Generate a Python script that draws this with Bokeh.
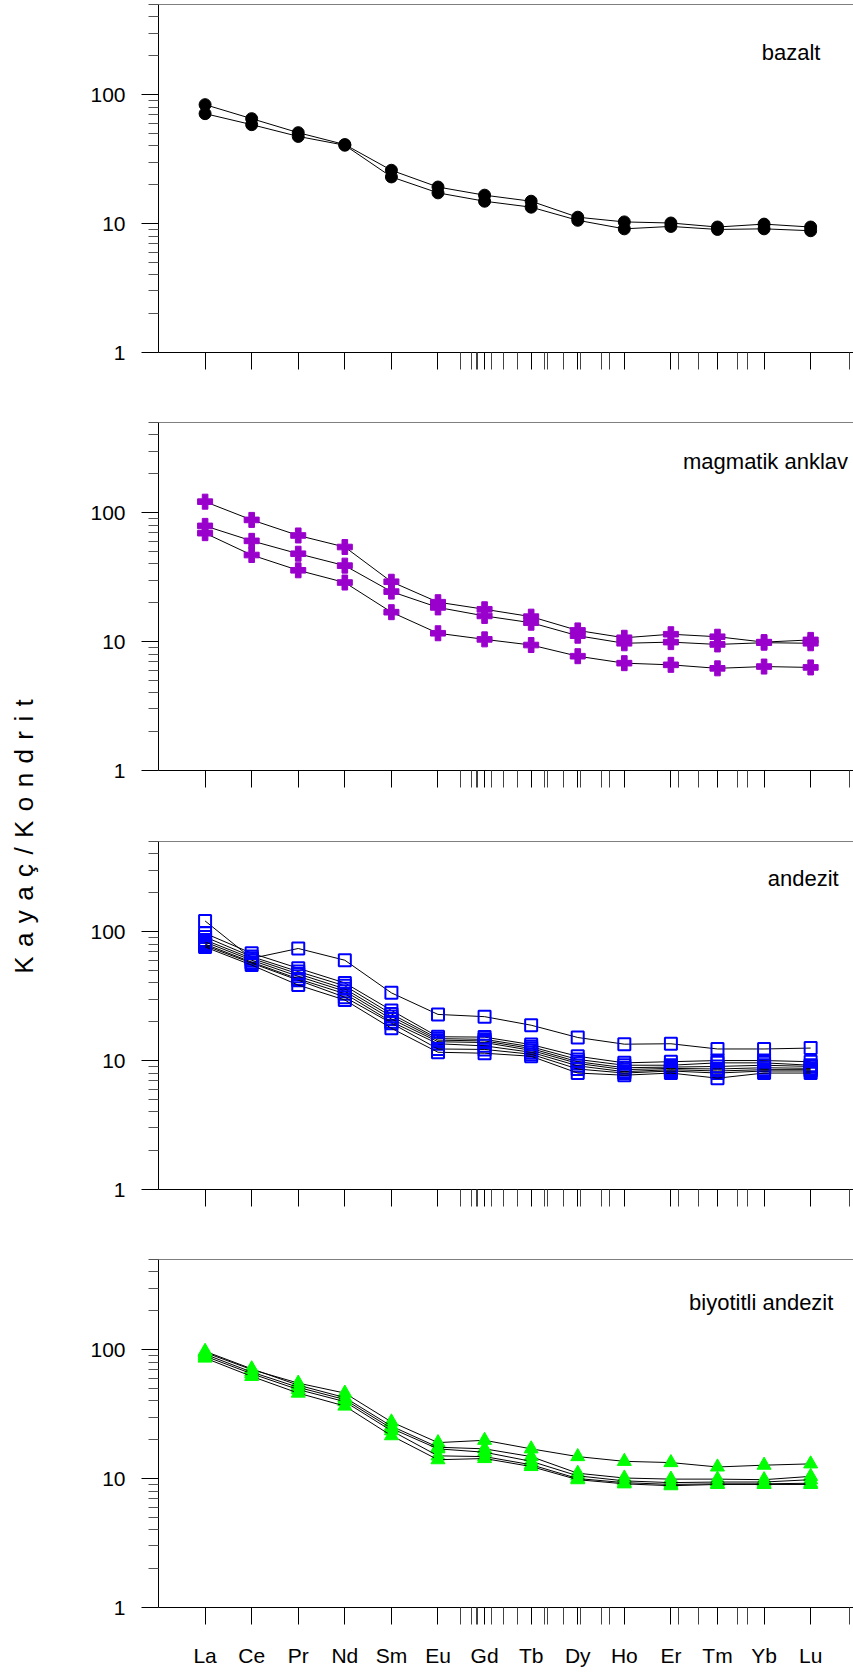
from math import pi

from bokeh.core.properties import value
from bokeh.embed import file_html
from bokeh.layouts import column, row
from bokeh.models import FixedTicker, Label, NumeralTickFormatter, Range1d, Span
from bokeh.plotting import figure
from bokeh.resources import INLINE

# ---------------------------------------------------------------------------
# Chondrite-normalised REE values (rock / chondrite)
# ---------------------------------------------------------------------------
elements = ["La", "Ce", "Pr", "Nd", "Sm", "Eu", "Gd", "Tb", "Dy", "Ho", "Er", "Tm", "Yb", "Lu"]
x_pos = list(range(1, len(elements) + 1))

bazalt = [
    [83.6, 65.1, 50.7, 41.0, 25.9, 19.2, 16.6, 14.9, 11.2, 10.3, 10.1, 9.4, 9.9, 9.4],
    [71.2, 58.5, 47.4, 40.5, 23.0, 17.3, 14.9, 13.4, 10.6, 9.1, 9.5, 9.0, 9.1, 8.8],
]

magmatik_anklav = [
    [121.6, 87.8, 66.5, 54.1, 29.1, 20.2, 17.8, 15.6, 12.2, 10.7, 11.4, 10.9, 9.9, 10.3],
    [78.9, 60.4, 48.0, 38.8, 24.4, 18.4, 15.8, 14.0, 11.1, 9.7, 9.9, 9.5, 9.8, 9.7],
    [69.3, 46.9, 35.7, 28.7, 16.9, 11.6, 10.4, 9.4, 7.7, 6.8, 6.6, 6.2, 6.4, 6.3],
]

andezit = [
    [121.0, 62.0, 74.0, 60.0, 33.5, 22.8, 21.9, 18.8, 15.1, 13.4, 13.5, 12.3, 12.3, 12.5],
    [97.0, 68.0, 52.0, 40.0, 24.5, 15.3, 15.2, 13.3, 10.8, 9.6, 9.8, 10.0, 10.0, 9.8],
    [91.0, 64.0, 49.0, 38.0, 23.0, 14.8, 14.6, 12.8, 10.2, 9.2, 9.2, 9.6, 9.6, 9.2],
    [86.0, 62.0, 47.0, 36.0, 22.0, 14.4, 14.2, 12.4, 9.8, 8.8, 8.9, 9.0, 9.2, 9.0],
    [83.0, 60.0, 45.0, 34.5, 21.0, 14.0, 13.8, 12.0, 9.5, 8.5, 8.7, 8.6, 8.8, 8.7],
    [80.0, 58.0, 43.0, 33.0, 20.0, 13.5, 13.0, 11.6, 9.1, 8.2, 8.5, 8.3, 8.5, 8.5],
    [78.0, 57.0, 42.0, 31.0, 19.5, 12.3, 12.2, 11.2, 8.6, 8.0, 8.3, 8.0, 8.3, 8.3],
    [76.0, 55.0, 38.5, 29.5, 17.8, 11.6, 11.4, 10.8, 8.0, 7.7, 8.0, 7.3, 8.0, 8.0],
]

biyotitli_andezit = [
    [95.0, 70.0, 55.0, 46.0, 27.5, 19.0, 19.8, 17.0, 14.8, 13.6, 13.3, 12.3, 12.7, 13.0],
    [97.0, 71.0, 53.0, 42.5, 25.5, 17.5, 17.0, 14.8, 11.0, 10.1, 9.9, 9.9, 9.8, 10.4],
    [92.0, 67.0, 51.0, 41.0, 24.5, 17.0, 16.0, 13.6, 10.5, 9.6, 9.3, 9.4, 9.4, 9.8],
    [89.0, 65.0, 49.0, 39.5, 23.5, 15.0, 14.8, 12.8, 10.0, 9.3, 9.0, 9.1, 9.1, 9.2],
    [86.0, 62.0, 46.0, 36.5, 21.5, 14.0, 14.3, 12.4, 9.8, 9.1, 8.8, 9.0, 9.0, 9.0],
]

# Axis ticks
y_major_ticks = [1, 10, 100]
y_minor_ticks = [2, 3, 4, 5, 6, 7, 8, 9, 20, 30, 40, 50, 60, 70, 80, 90, 200, 300, 400, 500]
x_extra_ticks = [6.49, 6.71, 6.83, 6.85, 7.15, 7.41, 7.70, 8.28, 8.36, 8.70,
                 9.05, 9.51, 9.69, 11.17, 11.60, 12.43, 12.64, 14.83]

FONT = "Liberation Sans"
PANEL_W = 803
LEFT = 108


def make_panel(series, title, title_x, title_y, height, marker, size, fill, edge,
               lw, show_labels):
    bottom = height - 4 - 348
    p = figure(width=PANEL_W, height=height,
               x_range=Range1d(0, 14.92), y_range=Range1d(1, 500),
               y_axis_type="log", output_backend="svg", toolbar_location=None,
               min_border_left=LEFT, min_border_right=0, min_border_top=4,
               min_border_bottom=bottom)
    p.outline_line_color = None
    p.grid.visible = False
    p.background_fill_color = "white"

    yax = p.yaxis[0]
    yax.ticker = FixedTicker(ticks=y_major_ticks, minor_ticks=y_minor_ticks)
    yax.formatter = NumeralTickFormatter(format="0")
    yax.major_tick_in = 0
    yax.major_tick_out = 17
    yax.minor_tick_in = 0
    yax.minor_tick_out = 10
    yax.minor_tick_line_color = "#555555"
    yax.axis_line_color = "black"
    yax.major_label_standoff = 16
    yax.major_label_text_font = FONT
    yax.major_label_text_font_size = "21px"
    yax.major_label_text_color = "black"

    xax = p.xaxis[0]
    xax.ticker = FixedTicker(ticks=x_pos, minor_ticks=x_extra_ticks)
    xax.major_tick_in = 0
    xax.major_tick_out = 17
    xax.minor_tick_in = 0
    xax.minor_tick_out = 17
    xax.minor_tick_line_color = "#444444"
    xax.axis_line_color = "black"
    xax.major_label_text_font = FONT
    xax.major_label_text_font_size = "21px"
    xax.major_label_text_color = "black"
    xax.major_label_standoff = 19
    if show_labels:
        xax.major_label_overrides = {x: name for x, name in zip(x_pos, elements)}
    else:
        xax.major_label_overrides = {x: "" for x in x_pos}

    # top frame line
    p.add_layout(Span(location=500, dimension="width", line_color="black", line_width=1))

    for s in series:
        p.line(x_pos, s, line_color="black", line_width=1)
        p.scatter(x_pos, s, marker=marker, size=size, fill_color=fill,
                  line_color=edge, line_width=lw)

    p.add_layout(Label(x=title_x, y=title_y, text=title, text_font=FONT,
                       text_font_size="22px", text_color="black",
                       text_baseline="alphabetic", text_align="left"))
    return p


p1 = make_panel(bazalt, "bazalt", 12.95, 214, 418,
                "circle", 12, "black", "black", 1, False)
p2 = make_panel(magmatik_anklav, "magmatik anklav", 11.26, 247, 419,
                "plus", 15, "#9900CC", "#9900CC", 1, False)
p3 = make_panel(andezit, "andezit", 13.08, 257, 418,
                "square", 12, None, "#0000FF", 2, False)
p4 = make_panel(biyotitli_andezit, "biyotitli andezit", 11.39, 231, 417,
                "triangle", 14, "#00FF00", "#00FF00", 1, True)

# Shared y-axis title in its own narrow strip (letter-spaced)
y_title = " \u200a".join("Kayaç/Kondrit")
lab = figure(width=50, height=1672, x_range=Range1d(0, 50), y_range=Range1d(0, 1672),
             output_backend="svg", toolbar_location=None,
             x_axis_location=None, y_axis_location=None, min_border=0)
lab.outline_line_color = None
lab.grid.visible = False
lab.text(x=[23], y=[836], text=[y_title], angle=pi / 2,
         text_align="center", text_baseline="middle",
         text_font=value(FONT), text_font_size="26px", text_color="black")

layout = row(lab, column(p1, p2, p3, p4, spacing=0), spacing=0)

with open("out.html", "w") as f:
    f.write(file_html(layout, INLINE))
